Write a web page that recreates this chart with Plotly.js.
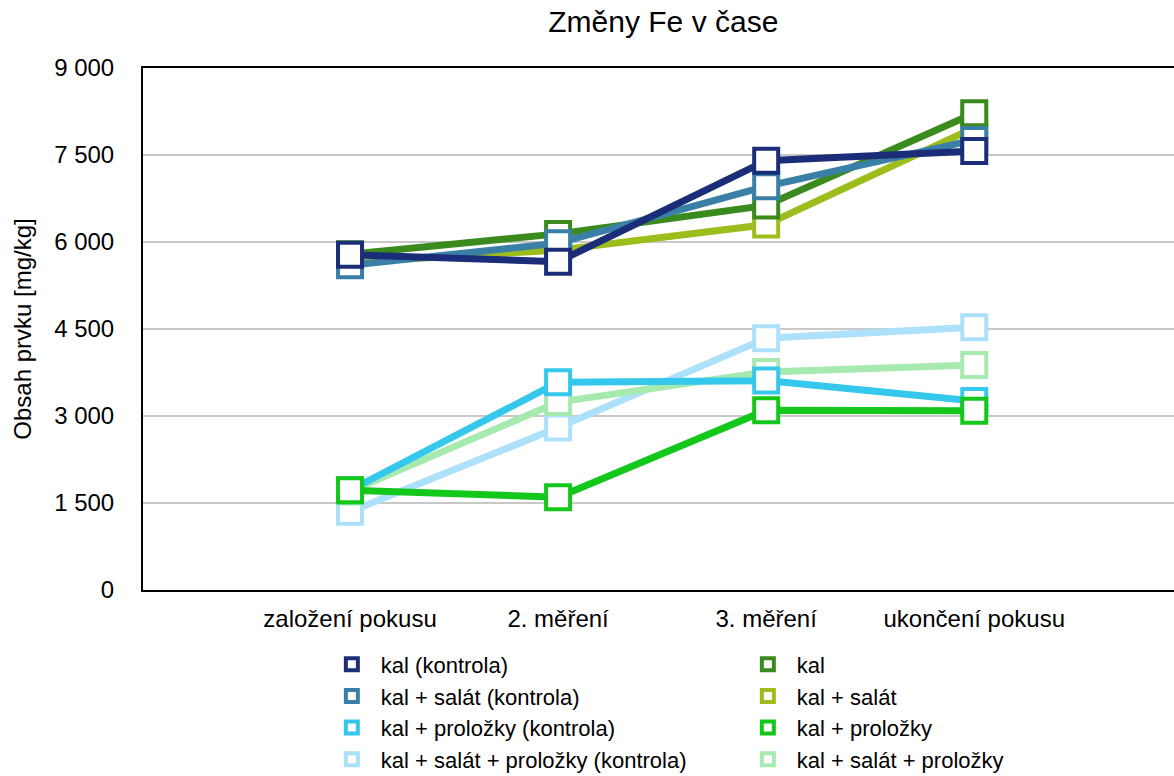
<!DOCTYPE html>
<html><head><meta charset="utf-8">
<script src="https://cdn.plot.ly/plotly-3.0.1.min.js"></script>
<style>html,body{margin:0;padding:0;background:#fff}</style>
</head><body>
<div id="chart" style="width:1174px;height:776px"></div>
<script>
const categories = ["založení pokusu", "2. měření", "3. měření", "ukončení pokusu"];
const seriesNames = ["kal (kontrola)", "kal + salát (kontrola)", "kal + proložky (kontrola)", "kal + salát + proložky (kontrola)", "kal", "kal + salát", "kal + proložky", "kal + salát + proložky"];
const kalKontrola = [5780, 5660, 7400, 7570];
const kalSalatKontrola = [5600, 5980, 6960, 7760];
const kalProlozkyKontrola = [1720, 3580, 3610, 3260];
const kalSalatProlozkyKontrola = [1350, 2800, 4340, 4530];
const kal = [5790, 6140, 6630, 8220];
const kalSalat = [5650, 5860, 6300, 7970];
const kalProlozky = [1720, 1600, 3100, 3090];
const kalSalatProlozky = [1700, 3240, 3760, 3880];
const colors = ["#1b2d78", "#3a80a6", "#36c8ec", "#ade0fb", "#3a8a1e", "#9dbd1c", "#14c71b", "#a6eab0"];
const yTicks = [0, 1500, 3000, 4500, 6000, 7500, 9000];

const values = [kalKontrola, kalSalatKontrola, kalProlozkyKontrola, kalSalatProlozkyKontrola, kal, kalSalat, kalProlozky, kalSalatProlozky];
const drawOrder = [3, 7, 2, 6, 5, 4, 1, 0];
const legendOrder = [0, 4, 1, 5, 2, 6, 3, 7];
const traces = [];
drawOrder.forEach(i => {
  traces.push({
    x: categories, y: values[i], type: 'scatter', mode: 'lines+markers',
    name: seriesNames[i], showlegend: false,
    line: {color: colors[i], width: 7},
    marker: {symbol: 'square', size: 24, color: '#ffffff', line: {color: colors[i], width: 4}}
  });
});
legendOrder.forEach((i, k) => {
  traces.push({
    x: [null], y: [null], type: 'scatter', mode: 'markers',
    name: seriesNames[i], showlegend: true, legendrank: k + 1,
    marker: {symbol: 'square', size: 12, color: '#ffffff', line: {color: colors[i], width: 4}}
  });
});

const layout = {
  width: 1174, height: 776,
  margin: {l: 143, r: 0, t: 68, b: 186},
  paper_bgcolor: '#fff', plot_bgcolor: '#fff',
  font: {family: 'Liberation Sans, Arial, sans-serif', size: 24, color: '#000'},
  separators: ', ',
  title: {text: 'Změny Fe v čase', x: 0.565, xanchor: 'center', y: 0.972, yanchor: 'middle', font: {size: 30}},
  xaxis: {
    type: 'category', range: [-0.995, 3.96], showgrid: false,
    showline: true, linecolor: '#000', linewidth: 2, mirror: true,
    ticks: '', ticklabelstandoff: 6, tickfont: {size: 24}, zeroline: false
  },
  yaxis: {
    range: [0, 9000], tickvals: yTicks, tickformat: ',d',
    showgrid: true, gridcolor: '#c8c8c8', gridwidth: 1.5,
    showline: true, linecolor: '#000', linewidth: 2,
    ticks: '', ticklabelstandoff: 22, tickfont: {size: 24}, zeroline: false,
    title: {text: 'Obsah prvku [mg/kg]', font: {size: 24}, standoff: 16}
  },
  legend: {
    orientation: 'h', xref: 'container', yref: 'container',
    x: 0.275, xanchor: 'left', y: 0.1707, yanchor: 'top',
    entrywidth: 353, entrywidthmode: 'pixels', traceorder: 'normal',
    font: {size: 22}, itemwidth: 48, tracegroupgap: 0, bgcolor: 'rgba(0,0,0,0)'
  },
  showlegend: true
};
Plotly.newPlot('chart', traces, layout, {displayModeBar: false, staticPlot: true});
</script>
</body></html>
